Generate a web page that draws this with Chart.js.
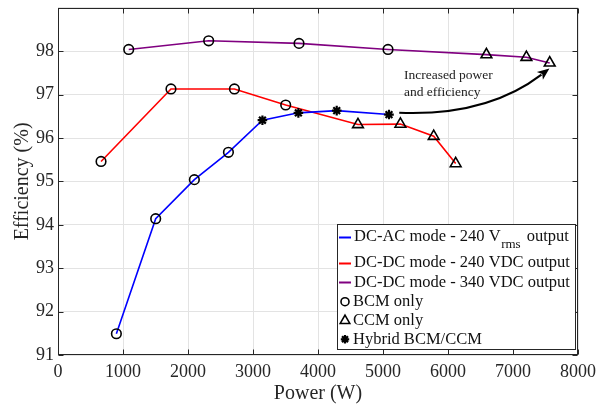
<!DOCTYPE html>
<html>
<head>
<meta charset="utf-8">
<script src="https://cdn.jsdelivr.net/npm/chart.js@4.4.1/dist/chart.umd.min.js"></script>
<style>
html,body{margin:0;padding:0;background:#fff;}
#wrap{width:605px;height:407px;position:relative;}
</style>
</head>
<body>
<div id="wrap"><canvas id="c" width="605" height="407"></canvas></div>
<script>
// ---- Data ----
const xTicks = [0,1000,2000,3000,4000,5000,6000,7000,8000];
const yTicks = [91,92,93,94,95,96,97,98];

const acPower = [898,1503,2098,2622,3145,3698,4288,5092];
const acEff   = [91.49,94.14,95.04,95.67,96.41,96.58,96.63,96.54];
const acMode  = ['BCM','BCM','BCM','BCM','Hybrid','Hybrid','Hybrid','Hybrid'];

const dc240Power = [662,1738,2714,3503,4615,5268,5780,6118];
const dc240Eff   = [95.46,97.13,97.13,96.76,96.31,96.32,96.04,95.41];
const dc240Mode  = ['BCM','BCM','BCM','BCM','CCM','CCM','CCM','CCM'];

const dc340Power = [1088,2318,3708,5077,6591,7206,7565];
const dc340Eff   = [98.04,98.24,98.18,98.04,97.92,97.86,97.73];
const dc340Mode  = ['BCM','BCM','BCM','BCM','CCM','CCM','CCM'];

const seriesNames = ['DC-AC mode - 240 V','DC-DC mode - 240 VDC output','DC-DC mode - 340 VDC output'];
const modeNames = ['BCM only','CCM only','Hybrid BCM/CCM'];
const annotationText = ['Increased power','and efficiency'];

// ---- Styling ----
const FONT = "'Liberation Serif','Times New Roman',serif";
const AXC = '#262626';
const styleOf = {BCM:'circle', CCM:'triangle', Hybrid:'star'};
const radiusOf = {BCM:4.8, CCM:6.2, Hybrid:4.8};
const bwOf = {BCM:1.6, CCM:1.6, Hybrid:2.2};

function mk(label, P, E, M, color){
  return {
    label: label,
    data: P.map((p,i)=>({x:p, y:E[i]})),
    borderColor: color,
    borderWidth: 1.6,
    backgroundColor: color,
    pointStyle: M.map(m=>styleOf[m]),
    pointRadius: M.map(m=>radiusOf[m]),
    pointBorderWidth: M.map(m=>bwOf[m]),
    pointBorderColor: '#000',
    pointBackgroundColor: 'rgba(0,0,0,0)',
    tension: 0
  };
}

function noPad(s){ s.paddingTop = 0; s.paddingBottom = 0; s.paddingLeft = 0; s.paddingRight = 0; }

const boxPlugin = {
  id:'boxPlugin',
  afterDraw(chart){
    const ctx = chart.ctx;
    const a = chart.chartArea;
    const xs = chart.scales.x, ys = chart.scales.y;
    ctx.save();
    // annotation arrow
    const p0 = {x: xs.getPixelForValue(5250), y: ys.getPixelForValue(96.58)};
    const p2 = {x: xs.getPixelForValue(7560), y: ys.getPixelForValue(97.6)};
    const c  = {x: xs.getPixelForValue(6600), y: ys.getPixelForValue(96.5)};
    const dx = p2.x - c.x, dy = p2.y - c.y, dl = Math.hypot(dx,dy);
    const ux = dx/dl, uy = dy/dl;
    const hl = 12, hw = 5;
    const base = {x: p2.x - ux*hl, y: p2.y - uy*hl};
    ctx.strokeStyle = '#000'; ctx.lineWidth = 2;
    ctx.beginPath();
    ctx.moveTo(p0.x, p0.y);
    ctx.quadraticCurveTo(c.x, c.y, base.x + ux*2, base.y + uy*2);
    ctx.stroke();
    ctx.fillStyle = '#000';
    ctx.beginPath();
    ctx.moveTo(p2.x, p2.y);
    ctx.lineTo(base.x - uy*hw, base.y + ux*hw);
    ctx.lineTo(base.x + ux*3, base.y + uy*3);
    ctx.lineTo(base.x + uy*hw, base.y - ux*hw);
    ctx.closePath();
    ctx.fill();
    ctx.font = '13.5px ' + FONT;
    ctx.fillStyle = '#222';
    ctx.textBaseline = 'middle';
    ctx.textAlign = 'left';
    ctx.fillText(annotationText[0], 404, 75);
    ctx.fillText(annotationText[1], 404, 92);

    // axes box
    ctx.strokeStyle = AXC; ctx.lineWidth = 1;
    const L = Math.round(a.left)+0.5, R = Math.round(a.right)-0.5, T = Math.round(a.top)+0.5, B = Math.round(a.bottom)-0.5;
    ctx.strokeRect(L, T, R-L, B-T);
    // inward ticks
    ctx.beginPath();
    xTicks.forEach(v=>{
      const px = Math.round(xs.getPixelForValue(v))+0.5;
      ctx.moveTo(px,B); ctx.lineTo(px,B-5);
      ctx.moveTo(px,T); ctx.lineTo(px,T+5);
    });
    yTicks.concat([99]).forEach(v=>{
      const py = Math.round(ys.getPixelForValue(v))+0.5;
      ctx.moveTo(L,py); ctx.lineTo(L+5,py);
      ctx.moveTo(R,py); ctx.lineTo(R-5,py);
    });
    ctx.stroke();

    // legend
    const lx = 337.5, ly = 224.5, lw = 238, lh = 125;
    ctx.fillStyle = '#fff';
    ctx.fillRect(lx, ly, lw, lh);
    ctx.strokeStyle = AXC;
    ctx.strokeRect(lx, ly, lw, lh);
    const colors = ['#0000ff','#ff0000','#800080'];
    const rowsY = [236.7, 262.7, 282.3];
    ctx.font = '16.5px ' + FONT;
    ctx.fillStyle = '#111';
    ctx.textBaseline = 'middle';
    for (let i=0;i<3;i++){
      ctx.strokeStyle = colors[i]; ctx.lineWidth = 2;
      ctx.beginPath(); ctx.moveTo(339, Math.round(rowsY[i])+0.5); ctx.lineTo(351, Math.round(rowsY[i])+0.5); ctx.stroke();
      ctx.fillText(seriesNames[i], 354, rowsY[i]);
      if (i===0){
        const w = ctx.measureText(seriesNames[i]).width;
        ctx.font = '13px ' + FONT;
        ctx.fillText('rms', 354 + w + 0.5, rowsY[i] + 8);
        const w2 = ctx.measureText('rms').width;
        ctx.font = '16.5px ' + FONT;
        ctx.fillText(' output', 354 + w + w2 + 2.5, rowsY[i]);
      }
    }
    const mY = [301.7, 320.7, 339.3];
    const mStyles = ['circle','triangle','star'];
    for (let i=0;i<3;i++){
      ctx.strokeStyle = '#000'; ctx.fillStyle = 'rgba(0,0,0,0)';
      ctx.lineWidth = i===2 ? 2.2 : 1.6;
      Chart.helpers.drawPoint(ctx, {pointStyle: mStyles[i], radius: i===1?5.5:(i===2?4.2:4), borderWidth: ctx.lineWidth, rotation:0}, 345, mY[i]);
      ctx.fillStyle = '#111';
      ctx.fillText(modeNames[i], 353, mY[i]);
    }
    ctx.restore();
  }
};

new Chart(document.getElementById('c'), {
  type: 'line',
  data: {
    datasets: [
      mk(seriesNames[0]+'rms output', acPower, acEff, acMode, '#0000ff'),
      mk(seriesNames[1], dc240Power, dc240Eff, dc240Mode, '#ff0000'),
      mk(seriesNames[2], dc340Power, dc340Eff, dc340Mode, '#800080')
    ]
  },
  options: {
    responsive: false,
    animation: false,
    devicePixelRatio: 1,
    layout: {padding: {top:3, right:27, left:0, bottom:0}},
    plugins: {legend:{display:false}, tooltip:{enabled:false}},
    scales: {
      x: {
        type: 'linear', min: 0, max: 8000,
        afterBuildTicks(s){ s.ticks = xTicks.map(v=>({value:v})); },
        afterFit(s){ s.height = 52; noPad(s); },
        grid: {color:'#e3e3e3', drawTicks:false, lineWidth:1},
        border: {display:false},
        ticks: {font:{family:FONT, size:18}, color:AXC, padding:6, maxRotation:0, autoSkip:false, callback:(v)=>String(v)},
        title: {display:true, text:'Power (W)', font:{family:FONT, size:20}, color:AXC, padding:{top:0,bottom:1}}
      },
      y: {
        type: 'linear', min: 91, max: 99,
        afterBuildTicks(s){ s.ticks = yTicks.concat([99]).map(v=>({value:v})); },
        afterFit(s){ s.width = 58; noPad(s); },
        grid: {color:'#e3e3e3', drawTicks:false, lineWidth:1},
        border: {display:false},
        ticks: {font:{family:FONT, size:18}, color:AXC, padding:4, callback:(v)=> v===99 ? '' : String(v)},
        title: {display:true, text:'Efficiency (%)', font:{family:FONT, size:20}, color:AXC, padding:{top:11,bottom:0}}
      }
    }
  },
  plugins: [boxPlugin]
});
</script>
</body>
</html>
